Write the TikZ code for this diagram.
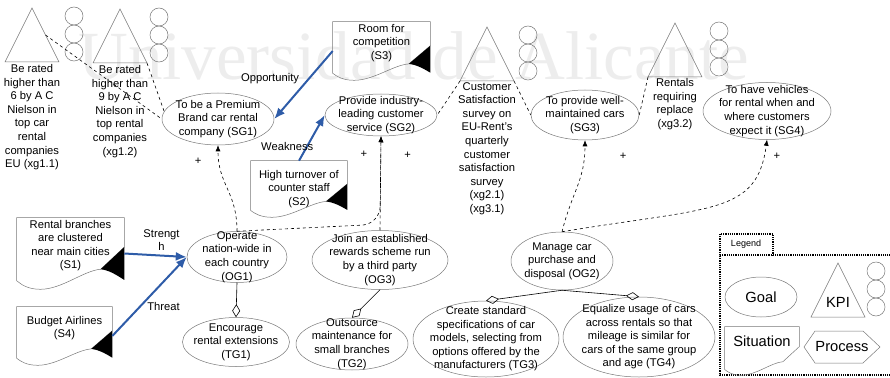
\documentclass[tikz,border=0pt]{standalone}
\usepackage{fontspec}
\setmainfont{Liberation Sans}
\newfontfamily\wmfont{Liberation Serif}
\usepackage{tikz}
\usetikzlibrary{arrows.meta,calc,positioning,shapes.geometric}

\definecolor{swotblue}{RGB}{46,92,168}
\definecolor{shapegray}{RGB}{120,120,120}

\newcommand{\legendfont}{\fontsize{14.7}{17}\selectfont}
\newcommand{\celltext}[2][-2.8pt]{\smash{\makebox[0pt]{\raisebox{#1}{\begin{tabular}{@{}c@{}}#2\end{tabular}}}}}

\newcommand{\sitframe}[1]{%
\draw[kpi] let \p1=(#1.north west), \p2=(#1.south east), \n1={\x2-\x1}, \n2={\y1-\y2} in
  (\x1,\y1) -- (\x2,\y1) -- (\x2,\y1-0.41*\n2) -- (\x1+0.78*\n1,\y1-0.72*\n2)
  .. controls (\x1+0.62*\n1,\y1-0.74*\n2) and (\x1+0.42*\n1,\y2) .. (\x1+0.22*\n1,\y2)
  .. controls (\x1+0.1*\n1,\y2) and (\x1+0.04*\n1,\y1-0.93*\n2) .. (\x1,\y1-0.88*\n2) -- cycle;}
\newcommand{\sitcorner}[1]{%
\fill let \p1=(#1.north west), \p2=(#1.south east), \n1={\x2-\x1}, \n2={\y1-\y2} in
  (\x2,\y1-0.41*\n2) -- (\x2,\y1-0.87*\n2)
  .. controls (\x1+0.92*\n1,\y1-0.79*\n2) and (\x1+0.85*\n1,\y1-0.73*\n2) .. (\x1+0.78*\n1,\y1-0.72*\n2) -- cycle;}

\tikzset{
  goal/.style={ellipse, draw=shapegray, line width=0.5pt, inner sep=0pt},
  situation/.style={rectangle, inner sep=0pt},
  kpi/.style={draw=shapegray, line width=0.5pt},
  kpitext/.style={align=center, inner sep=0pt},
  swot/.style={draw=swotblue, line width=2pt, -{Latex[length=11pt,width=9pt]}},
  contrib/.style={dashed, -{Latex[length=6pt,width=5pt]}},
  kpilink/.style={dashed},
  refine/.style={-{Diamond[open,length=13pt,width=8pt]}},
  legendline/.style={densely dotted, line width=1.2pt}
}

\begin{document}
\begin{tikzpicture}[x=1pt, y=-1pt, font=\fontsize{11.2}{13.6}\selectfont, line width=0.6pt]
\useasboundingbox (0,0) rectangle (890,377);

\node[anchor=base west, text=black!7, font=\wmfont\fontsize{69}{69}\selectfont, inner sep=0pt] (wm) at (78,80) {Universidad de Alicante};

\foreach \n/\x/\y/\c in {kA/32/8/74, kB/120/9/159, kC/487/27/528, kD/675/23/719, kL/838/263/876} {
  \draw[kpi] (\x,\y) -- ++(27,54) -- ++(-54,0) -- cycle;
  \foreach \k in {0,1,2}
    \draw[kpi] (\c,\y+8+18*\k) circle (9pt);
  \coordinate (\n) at (\x,\y);
  \coordinate (\n-l) at (\x-27,\y+54);
  \coordinate (\n-r) at (\x+27,\y+54);
  \coordinate (\n-b) at (\x,\y+54);
}

\node[kpitext, below=2pt of kA-b] (xg11) {Be rated\\higher than\\6 by A C\\Nielson in\\top car\\rental\\companies\\EU (xg1.1)};
\node[kpitext, below=2pt of kB-b] (xg12) {Be rated\\higher than\\9 by A C\\Nielson in\\top rental\\companies\\(xg1.2)};
\node[kpitext, below=1pt of kC-b] (xg21) {Customer\\Satisfaction\\survey on\\EU-Rent's\\quarterly\\customer\\satisfaction\\survey\\(xg2.1)\\(xg3.1)};
\node[kpitext, below=1pt of kD-b] (xg32) {Rentals\\requiring\\replace\\(xg3.2)};

\node[goal, minimum width=112pt, minimum height=52pt] (SG1) at (218,119) {\celltext{To be a Premium\\Brand car rental\\company (SG1)}};
\node[goal, minimum width=112pt, minimum height=42pt] (SG2) at (381,115) {\celltext{Provide industry-\\leading customer\\service (SG2)}};
\node[goal, minimum width=108pt, minimum height=50pt] (SG3) at (585,115) {\celltext{To provide well-\\maintained cars\\(SG3)}};
\node[goal, minimum width=128pt, minimum height=57pt] (SG4) at (767,111) {\celltext{To have vehicles\\for rental when and\\where customers\\expect it (SG4)}};

\node[goal, minimum width=100pt, minimum height=51pt] (OG1) at (237,257) {\celltext{Operate\\nation-wide in\\each country\\(OG1)}};
\node[goal, minimum width=136pt, minimum height=59pt] (OG3) at (380,260) {\celltext{Join an established\\rewards scheme run\\by a third party\\(OG3)}};
\node[goal, minimum width=102pt, minimum height=58pt] (OG2) at (562,261) {\celltext{Manage car\\purchase and\\disposal (OG2)}};

\node[goal, minimum width=107pt, minimum height=49pt] (TG1) at (236,342) {\celltext{Encourage\\rental extensions\\(TG1)}};
\node[goal, minimum width=112pt, minimum height=52pt] (TG2) at (352,344) {\celltext{Outsource\\maintenance for\\small branches\\(TG2)}};
\node[goal, minimum width=146pt, minimum height=76pt] (TG3) at (486,339) {\celltext{Create standard\\specifications of car\\models, selecting from\\options offered by the\\manufacturers (TG3)}};
\node[goal, minimum width=152pt, minimum height=80pt] (TG4) at (639,337) {\celltext{Equalize usage of cars\\across rentals so that\\mileage is similar for\\cars of the same group\\and age (TG4)}};

\node[situation, minimum width=107pt, minimum height=71pt] (S1) at (70.5,253.5) {\celltext[5pt]{Rental branches\\are clustered\\near main cities\\(S1)}};
\sitframe{S1}\sitcorner{S1}
\node[situation, minimum width=96pt, minimum height=56pt] (S2) at (299,189) {\celltext{High turnover of\\counter staff\\(S2)}};
\sitframe{S2}\sitcorner{S2}
\node[situation, minimum width=97pt, minimum height=58pt] (S3) at (381.5,51) {\celltext[5pt]{Room for\\competition\\(S3)}};
\sitframe{S3}\sitcorner{S3}
\node[situation, minimum width=95pt, minimum height=58pt] (S4) at (64.5,336) {\celltext[5pt]{Budget Airlines\\(S4)}};
\sitframe{S4}\sitcorner{S4}

\draw[kpilink] ($(kA)!0.5!(kA-r)$) -- (SG1.west);
\draw[kpilink] (kB-r) -- (SG1.172);
\draw[kpilink] (kC-l) -- (SG2.east);
\draw[kpilink] (kC-r) -- (SG3.west);
\draw[kpilink] (kD-l) -- (SG3.east);

\draw[swot] (S3.west) -- node[pos=0.4, left=6pt] {Opportunity} (SG1.east);
\draw[swot] (S2.north) -- node[pos=0.32, xshift=-20pt] {Weakness} (SG2.west);
\draw[swot] (S1.east) -- node[midway, above, xshift=6pt, align=center] {Strengt\\h} (OG1.west);
\draw[swot] (S4.east) -- node[midway, xshift=14pt, yshift=-10pt] {Threat} (OG1.west);

\draw[contrib] (OG1.north) .. controls +(0,-40) and +(0,40) .. node[pos=0.85, left=14pt] {+} (SG1.south);
\draw[contrib, rounded corners=18pt] (OG1.north) -- ([yshift=6pt]OG3.north) -- node[pos=0.8, left=10pt] {+} (SG2.south);
\draw[contrib] (OG3.north) -- node[pos=0.8, right=20pt] {+} (SG2.south);
\draw[contrib] (OG2.north) .. controls +(10,-40) and +(0,40) .. node[pos=0.85, right=32pt] {+} (SG3.south);
\draw[contrib] (OG2.north) .. controls +(150,-25) and +(-10,75) .. node[pos=0.92, right=6pt] {+} (SG4.south);

\draw[refine] (OG1.south) -- (TG1.north);
\draw[refine] (OG3.south) -- (TG2.north);
\draw[refine] (OG2.south) -- (TG3.north);
\draw[refine] (OG2.south) -- (TG4.north);

\draw[legendline] (720,255) -- (720,234) -- (773,234) -- (773,255);
\draw[legendline] (895,255) -- (720,255) -- (720,375) -- (895,375);
\node[font=\fontsize{9}{10}\selectfont] (leg) at (746,244) {Legend};
\node[goal, minimum width=72pt, minimum height=40pt, font=\legendfont] (lgoal) at (761,297) {Goal};
\node[font=\legendfont] (lkpi) at (838,302) {KPI};
\node[situation, minimum width=74pt, minimum height=48pt, font=\legendfont] (lsit) at (762,351) {\celltext[4pt]{Situation}};
\sitframe{lsit}
\node[font=\legendfont] (lproc) at (842,347) {Process};
\draw[kpi] (804,347) -- (815,331) -- (863,331) -- (880,347) -- (863,363) -- (815,363) -- cycle;

\end{tikzpicture}
\end{document}
